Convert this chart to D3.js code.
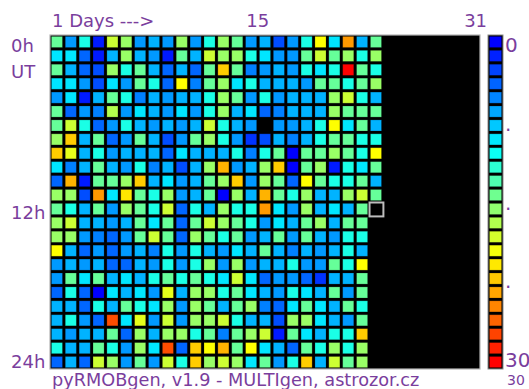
<!DOCTYPE html>
<html>
<head>
<meta charset="utf-8">
<script src="https://cdn.jsdelivr.net/npm/d3@7/dist/d3.min.js"></script>
<style>
  body { margin: 0; background: #fff; }
  text { font-family: "DejaVu Sans", sans-serif; fill: #7a3e9d; }
</style>
</head>
<body>
<div id="chart"></div>
<script>
// meteor counts per hour (rows 0h..23h) and day (columns 1..24), null = no data
const hourlyCounts = [
  [14, 6,11, 1,18,16, 6, 7, 6,16, 6,11, 16,14, 6, 7, 3, 6,11,20, 9,24, 7,14],
  [ 9, 9, 4, 1, 7,16, 7, 6, 1,14, 7,18, 16,16,11, 9, 6, 6,14,18,14,16,11,16],
  [14, 7, 4, 3,16,11,14, 7, 4, 7, 4,14, 22,14, 5, 6, 7, 6,11, 9,11,30,14,11],
  [ 9, 9, 6, 3, 9, 6,14,11, 4,20, 5,14, 16, 9,11, 7, 7, 7, 6,14,14,11,14,16],
  [ 6, 9, 1, 7,14,11, 5, 7, 6, 7, 7,11, 16,14, 6,11, 6, 7, 7, 7,16,18,11, 7],
  [14, 4, 6, 5,17, 6, 9, 7, 6, 9, 6,11, 16, 7, 9, 4, 5, 7, 7, 7,16,14,14,14],
  [14,18,11, 4, 6,11, 7, 6, 7, 6, 7,18, 11, 7, 6,null,6, 6, 7,11,20, 9,14, 7],
  [16,22, 7,14, 4, 6,14, 7, 3, 6,14,16, 11, 6, 2, 3, 7, 5, 7,11,14,14,11,11],
  [22,19, 7,11, 6, 7, 7, 7, 4, 9, 7, 7,  7,11, 5,11,14, 0,14,14,16,14,11,20],
  [ 9, 5, 7,14, 7, 6,11, 5, 7, 3, 7,16, 23, 6, 7,16,22, 0,14,16, 1,11, 9,14],
  [ 4,23, 1,14,14,16,22, 7, 9, 6, 7,14, 16,22, 6,16,14, 4,20,14,11,11,14, 7],
  [16,16, 3,24, 9,21,14,11,16, 6, 7,14,  0,16, 7,23,14,11,16, 7, 7,16,18,14],
  [14,11, 7,14, 6,16,14,11,18, 4,11, 7, 16,11,11,24, 9, 6,16, 7, 9, 7,14,null],
  [16,18, 7, 7, 6, 7,14, 9,14, 4,14,18, 16,14,11, 6, 9, 7,14,16, 7,14,14,null],
  [16,16, 6, 5, 4, 6,14,18,14, 4,16,14, 11,14, 6, 7,14, 6,14, 7, 6,11,11,null],
  [20, 7, 4, 6, 4, 6, 7, 5,11, 6,11, 7,  6, 9, 7,14, 7, 5, 7, 6, 7,11, 7,null],
  [ 6, 7, 6, 7, 4, 4, 7, 6,11, 6,11,16,  6,16, 6, 7, 7,11, 6, 6,14,11,20,null],
  [ 6,14, 9,14, 7, 9, 7,11,14,11,14,11,  9,18, 9, 4, 6, 6, 4, 2, 7, 7,14,null],
  [ 4,11, 4, 0, 9, 7, 9, 6,19, 7,16,16, 11,14, 9, 7, 6,11, 9, 7,14, 6,14,null],
  [ 7, 7, 4,11, 7,14,11, 9,16, 6,16,14,  7,14,16, 5, 4, 9,14, 9, 7,14,11,null],
  [ 7,11, 6, 4,27, 9,19, 6,18, 6,16,16, 18,11, 7, 7, 3,16,16, 9, 7, 6,14,null],
  [ 7, 6, 7, 7,14, 4,16, 7,16,16,11,14,  5,14,16,18, 1,14, 9, 7,11,11,22,null],
  [11, 7, 7,14,11, 6,16, 9,27, 4,22,20, 23,14,20, 9, 7, 4,14,11,16,11,16,null],
  [ 4, 7, 4,18,16, 6,14, 6,18,11,22,16, 18,16, 9,14, 6,11,22, 7,18,14,16,null]
];
const days = d3.range(1, 32);
const hours = d3.range(0, 24);
const dayTicks = [1, 15, 31];
const dayTickText = ["1 Days --->", "15", "31"];
const hourTicks = [0, 12, 24];
const hourTickText = ["0h", "12h", "24h"];
const scaleTickText = ["0", ".", ".", ".", "30"];
const scaleMin = 0, scaleMax = 30;
const maxLabel = "30";
const currentDay = 24, currentHour = 12;
const footer = "pyRMOBgen, v1.9 - MULTIgen, astrozor.cz";

const W = 529, H = 389;
const svg = d3.select("#chart").append("svg").attr("width", W).attr("height", H);

const x = d3.scaleBand().domain(days).range([50, 480]);
const y = d3.scaleBand().domain(hours).range([35, 369]);
const yPos = d3.scaleLinear().domain([0, 24]).range([35, 369]);
const color = d3.scaleLinear()
  .domain([0, 10, 20, 30])
  .range(["#0000ff", "#00ffff", "#ffff00", "#ff0000"]);

// grid background + frame
svg.append("rect")
  .attr("x", x.range()[0]).attr("y", y.range()[0])
  .attr("width", x.range()[1] - x.range()[0]).attr("height", y.range()[1] - y.range()[0])
  .attr("fill", "#000").attr("stroke", "#b4b4b4").attr("stroke-width", 1.2);

const cells = [];
hourlyCounts.forEach((row, h) => row.forEach((v, i) => {
  if (v !== null) cells.push({ day: days[i], hour: h, v: v });
}));

const pad = 1.4;
svg.append("g").selectAll("rect").data(cells).enter().append("rect")
  .attr("x", d => x(d.day) + pad)
  .attr("y", d => y(d.hour) + pad)
  .attr("width", x.bandwidth() - 2 * pad)
  .attr("height", y.bandwidth() - 2 * pad)
  .attr("fill", d => color(d.v))
  .attr("stroke", "rgba(0,0,0,0.25)")
  .attr("stroke-width", 0.8);

// current hour marker
svg.append("rect")
  .attr("x", x(currentDay) + 0.5).attr("y", y(currentHour) + 0.5)
  .attr("width", x.bandwidth()).attr("height", y.bandwidth())
  .attr("fill", "none").attr("stroke", "#bdbdbd").attr("stroke-width", 2);

// colour bar
const nSeg = 24;
const segIdx = d3.range(nSeg);
const cb = d3.scaleBand().domain(segIdx).range([35, 369]);
const cbX = 488, cbW = 15;
svg.append("rect").attr("x", cbX).attr("y", 35).attr("width", cbW).attr("height", 334)
  .attr("fill", "#000").attr("stroke", "#8a8a8a").attr("stroke-width", 1);
svg.append("g").selectAll("rect").data(segIdx).enter().append("rect")
  .attr("x", cbX + pad).attr("y", d => cb(d) + pad)
  .attr("width", cbW - 2 * pad).attr("height", cb.bandwidth() - 2 * pad)
  .attr("fill", d => color(scaleMin + (scaleMax - scaleMin) * d / (nSeg - 1)))
  .attr("stroke", "rgba(0,0,0,0.25)").attr("stroke-width", 0.8);

const cbLab = d3.scaleLinear().domain([0, scaleTickText.length - 1]).range([52, 367]);
svg.append("g").selectAll("text").data(scaleTickText).enter().append("text")
  .attr("x", 505).attr("y", (d, i) => cbLab(i))
  .style("font-size", "20px").text(d => d);
svg.append("text").attr("x", 507).attr("y", 385).style("font-size", "14px").text(maxLabel);

// day labels
svg.append("g").selectAll("text").data(dayTicks).enter().append("text")
  .attr("x", (d, i) => x(d) + (i === 2 ? -2 : 2))
  .attr("y", 27)
  .style("font-size", "18px")
  .text((d, i) => dayTickText[i]);

// hour labels
svg.append("g").selectAll("text").data(hourTicks).enter().append("text")
  .attr("x", 11)
  .attr("y", d => Math.min(yPos(d) + 17, yPos(24) - 1))
  .style("font-size", "18px")
  .text((d, i) => hourTickText[i]);
svg.append("text").attr("x", 11).attr("y", yPos(0) + 43).style("font-size", "18px").text("UT");

svg.append("text").attr("x", 52).attr("y", 386).style("font-size", "17.7px").text(footer);
</script>
</body>
</html>
